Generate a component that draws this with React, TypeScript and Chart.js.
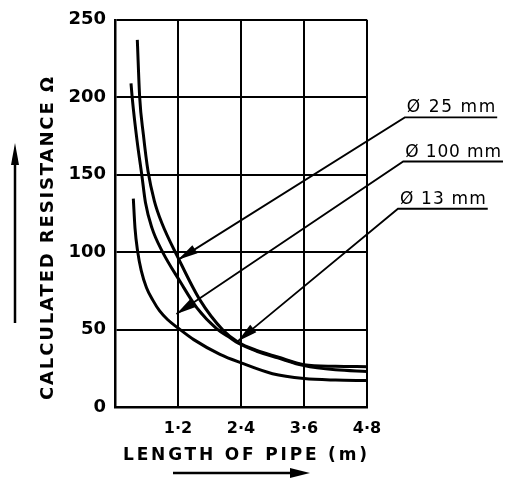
import React, { useEffect, useRef } from 'react';
import { Chart, registerables } from 'chart.js';

Chart.register(...registerables);

// ---- axis ticks ----
const xTickValues = [0, 1.2, 2.4, 3.6, 4.8];
const xTickLabels = ['', '1·2', '2·4', '3·6', '4·8'];
const yTickValues = [0, 50, 100, 150, 200, 250];

// ---- curves (length of pipe m, resistance ohm) ----
const curveAX = [0.425, 0.47, 0.54, 0.63, 0.75, 0.89, 1.2, 1.62, 2.06, 2.34, 2.7, 3.1, 3.6, 4.2, 4.8];
const curveAY = [237, 200, 176, 152, 133, 119, 96.5, 69, 49.5, 42, 36.5, 32.3, 27.3, 26.3, 26];
const curveBX = [0.305, 0.33, 0.42, 0.51, 0.58, 0.705, 0.9, 1.24, 1.56, 1.94, 2.2, 2.34, 2.7, 3.1, 3.6, 4.2, 4.8];
const curveBY = [209, 199, 172, 150, 132, 115.5, 100.5, 81, 64, 50.5, 44.5, 41.3, 36, 31.7, 26.7, 24, 23];
const curveCX = [0.349, 0.381, 0.432, 0.5, 0.6, 0.72, 0.85, 1.0, 1.2, 1.5, 2.0, 2.4, 3.0, 3.6, 4.2, 4.8];
const curveCY = [134.5, 115.5, 100.3, 88, 77, 69, 62, 56.5, 51, 43.5, 34, 28.5, 21.5, 18.4, 17.4, 17.1];

// ---- annotations (in data units) ----
const labelTexts = ['Ø 25 mm', 'Ø 100 mm', 'Ø 13 mm'];
const arrowTipX = [1.2, 1.17, 2.34];
const arrowTipY = [95, 60, 42.5];
const leaderStartX = [5.52, 5.49, 5.39];
const leaderStartY = [187, 158.5, 128];
const underlineEndX = [7.28, 7.39, 7.1];

const xTitle = 'LENGTH OF PIPE (m)';
const yTitle = 'CALCULATED RESISTANCE Ω';

const FONT = '"DejaVu Sans", sans-serif';

function fitText(ctx: CanvasRenderingContext2D, text: string, x: number, y: number, width: number) {
  (ctx as any).letterSpacing = '0px';
  const w0 = ctx.measureText(text).width;
  const n = Array.from(text).length;
  const sp = n > 1 ? (width - w0) / (n - 1) : 0;
  (ctx as any).letterSpacing = sp + 'px';
  ctx.fillText(text, x, y);
  (ctx as any).letterSpacing = '0px';
}

function arrowHead(ctx: CanvasRenderingContext2D, tx: number, ty: number, ang: number, L: number, W: number) {
  const c = Math.cos(ang), s = Math.sin(ang);
  ctx.beginPath();
  ctx.moveTo(tx, ty);
  ctx.lineTo(tx - L * c + W * s, ty - L * s - W * c);
  ctx.lineTo(tx - L * c - W * s, ty - L * s + W * c);
  ctx.closePath();
  ctx.fill();
}

const annotPlugin = {
  id: 'annot',
  afterDatasetsDraw(chart: any) {
    const { ctx } = chart;
    const x = chart.scales.x;
    const y = chart.scales.y;
    ctx.save();
    ctx.strokeStyle = '#000';
    ctx.fillStyle = '#000';
    for (let i = 0; i < labelTexts.length; i++) {
      const tx = x.getPixelForValue(arrowTipX[i]);
      const ty = y.getPixelForValue(arrowTipY[i]);
      const sx = x.getPixelForValue(leaderStartX[i]);
      const sy = y.getPixelForValue(leaderStartY[i]);
      const ex = x.getPixelForValue(underlineEndX[i]);
      ctx.lineWidth = 1.8;
      ctx.beginPath();
      ctx.moveTo(ex, sy);
      ctx.lineTo(sx, sy);
      ctx.lineTo(tx, ty);
      ctx.stroke();
      const ang = Math.atan2(ty - sy, tx - sx);
      arrowHead(ctx, tx, ty, ang, 20, 4.8);
      ctx.font = '17px ' + FONT;
      ctx.textAlign = 'left';
      ctx.textBaseline = 'alphabetic';
      fitText(ctx, labelTexts[i], sx + 2, sy - 5, ex - sx - 4);
    }
    ctx.restore();
  },
  afterDraw(chart: any) {
    const { ctx } = chart;
    ctx.save();
    ctx.fillStyle = '#000';
    ctx.strokeStyle = '#000';
    // x title
    ctx.font = 'bold 17px ' + FONT;
    ctx.textAlign = 'left';
    ctx.textBaseline = 'alphabetic';
    fitText(ctx, xTitle, 123, 460, 244);
    // x arrow
    ctx.lineWidth = 2.5;
    ctx.beginPath();
    ctx.moveTo(173, 473);
    ctx.lineTo(295, 473);
    ctx.stroke();
    arrowHead(ctx, 310, 473, 0, 20, 5);
    // y title
    ctx.save();
    ctx.translate(53, 400);
    ctx.rotate(-Math.PI / 2);
    ctx.font = 'bold 18px ' + FONT;
    fitText(ctx, yTitle, 0, 0, 323);
    ctx.restore();
    // y arrow
    ctx.lineWidth = 2.5;
    ctx.beginPath();
    ctx.moveTo(15, 323);
    ctx.lineTo(15, 160);
    ctx.stroke();
    arrowHead(ctx, 15, 143, -Math.PI / 2, 22, 4);
    ctx.restore();
  },
};

function pts(xs: number[], ys: number[]) {
  return xs.map((v, i) => ({ x: v, y: ys[i] }));
}

export default function App() {
  const ref = useRef<HTMLCanvasElement>(null);
  useEffect(() => {
    if (!ref.current) return;
    const lineStyle = {
      showLine: true,
      borderColor: '#000',
      backgroundColor: '#000',
      borderWidth: 3,
      pointRadius: 0,
      cubicInterpolationMode: 'monotone' as const,
      fill: false,
    };
    const chart = new Chart(ref.current, {
      type: 'scatter',
      data: {
        datasets: [
          { ...lineStyle, data: pts(curveAX, curveAY) },
          { ...lineStyle, data: pts(curveBX, curveBY) },
          { ...lineStyle, data: pts(curveCX, curveCY) },
        ],
      },
      options: {
        animation: false,
        responsive: false,
        devicePixelRatio: 1,
        layout: { padding: { left: 0, top: 13, right: 143, bottom: 0 } },
        plugins: { legend: { display: false }, tooltip: { enabled: false } },
        scales: {
          x: {
            type: 'linear',
            min: 0,
            max: 4.8,
            afterBuildTicks: (axis: any) => {
              axis.ticks = xTickValues.map((v) => ({ value: v }));
            },
            afterFit: (axis: any) => {
              axis.height = 72;
            },
            ticks: {
              color: '#000',
              padding: 12,
              maxRotation: 0,
              autoSkip: false,
              font: { family: FONT, size: 16, weight: 'bold' },
              callback: (_v: any, i: number) => xTickLabels[i],
            },
            grid: { color: '#000', lineWidth: 2, drawTicks: false },
            border: { display: true, color: '#000', width: 2.5 },
          },
          y: {
            type: 'linear',
            min: 0,
            max: 250,
            afterBuildTicks: (axis: any) => {
              axis.ticks = yTickValues.map((v) => ({ value: v }));
            },
            afterFit: (axis: any) => {
              axis.width = 115;
            },
            ticks: {
              color: '#000',
              padding: 9,
              autoSkip: false,
              font: { family: FONT, size: 18, weight: 'bold' },
              callback: (v: any) => String(v),
            },
            grid: { color: '#000', lineWidth: 2, drawTicks: false },
            border: { display: true, color: '#000', width: 2.5 },
          },
        },
      },
      plugins: [annotPlugin],
    });
    return () => chart.destroy();
  }, []);
  return (
    <div style={{ position: 'fixed', left: 0, top: 0, width: 510, height: 479, background: '#fff' }}>
      <canvas ref={ref} width={510} height={479} style={{ display: 'block', width: 510, height: 479 }} />
    </div>
  );
}
